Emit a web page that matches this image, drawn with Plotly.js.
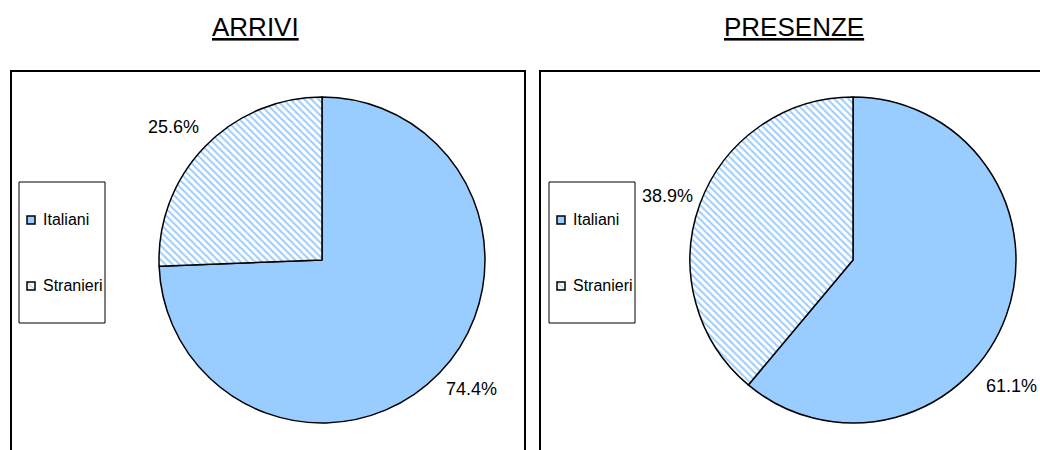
<!DOCTYPE html>
<html>
<head>
<meta charset="utf-8">
<script src="https://cdn.plot.ly/plotly-3.0.1.min.js"></script>
<style>html,body{margin:0;padding:0;background:#fff;}#chart{width:1040px;height:450px;}</style>
</head>
<body>
<div id="chart"></div>
<script>
// ---- data ----
const categories = ['Italiani', 'Stranieri'];
const arriviValues = [74.4, 25.6];
const presenzeValues = [61.1, 38.9];
const panelTitles = ['ARRIVI', 'PRESENZE'];

// ---- helpers (pixel -> paper) ----
const W = 1040, H = 450;
const px = x => x / W;
const py = y => 1 - y / H;

const FONT = 'Arial, "Liberation Sans", sans-serif';
const BLUE = '#99CCFF';

function pieTrace(values, xd) {
  return {
    type: 'pie',
    labels: categories,
    values: values,
    sort: false,
    direction: 'clockwise',
    rotation: 0,
    textinfo: 'none',
    hoverinfo: 'label+percent',
    showlegend: false,
    domain: {x: xd, y: [py(423), py(97)]},
    marker: {
      colors: [BLUE, 'white'],
      line: {color: 'black', width: 1.5},
      pattern: {
        shape: ['', '\\'],
        fgcolor: BLUE,
        bgcolor: 'white',
        size: 5,
        solidity: 0.4
      }
    }
  };
}

const data = [
  pieTrace(arriviValues, [px(322 - 163), px(322 + 163)]),
  pieTrace(presenzeValues, [px(853 - 163), px(853 + 163)])
];

const pct = v => v.toFixed(1) + '%';

const annotations = [];
// titles
[[255.5, panelTitles[0]], [793.5, panelTitles[1]]].forEach(([x, t]) => {
  annotations.push({
    xref: 'paper', yref: 'paper', x: px(x), y: py(27), xanchor: 'center', yanchor: 'middle',
    text: '<u>' + t + '</u>', showarrow: false, font: {family: FONT, size: 26, color: 'black'}
  });
});
// value labels
const labelPos = [
  [arriviValues[1], 173.5, 127],
  [arriviValues[0], 471, 388.5],
  [presenzeValues[1], 667, 196],
  [presenzeValues[0], 1011, 386]
];
labelPos.forEach(([v, x, y]) => {
  annotations.push({
    xref: 'paper', yref: 'paper', x: px(x), y: py(y), xanchor: 'center', yanchor: 'middle',
    text: pct(v), showarrow: false, font: {family: FONT, size: 18, color: 'black'}
  });
});

const shapes = [
  // panel boxes
  {type: 'rect', xref: 'paper', yref: 'paper', x0: px(11), x1: px(525), y0: py(71), y1: py(470),
   line: {color: 'black', width: 2}, fillcolor: 'rgba(0,0,0,0)', layer: 'below'},
  {type: 'rect', xref: 'paper', yref: 'paper', x0: px(540), x1: px(1060), y0: py(71), y1: py(470),
   line: {color: 'black', width: 2}, fillcolor: 'rgba(0,0,0,0)', layer: 'below'}
];

// manual legends
const legendColors = [BLUE, '#EEF6FF'];
[0, 530].forEach(off => {
  shapes.push({type: 'rect', xref: 'paper', yref: 'paper',
    x0: px(19 + off), x1: px(105 + off), y0: py(182), y1: py(323),
    line: {color: 'black', width: 1}, fillcolor: 'white'});
  categories.forEach((c, i) => {
    const cy = [220, 286][i];
    shapes.push({type: 'rect', xref: 'paper', yref: 'paper',
      x0: px(27 + off), x1: px(35 + off), y0: py(cy - 4), y1: py(cy + 4),
      line: {color: 'black', width: 1.5}, fillcolor: legendColors[i]});
    if (i === 1) {
      shapes.push({type: 'line', xref: 'paper', yref: 'paper',
        x0: px(28 + off), x1: px(34 + off), y0: py(cy - 3), y1: py(cy + 3),
        line: {color: BLUE, width: 1}});
    }
    annotations.push({xref: 'paper', yref: 'paper', x: px(41 + off), y: py(cy - 1),
      xanchor: 'left', yanchor: 'middle', text: c, showarrow: false,
      font: {family: FONT, size: 16, color: 'black'}});
  });
});

const layout = {
  width: W, height: H,
  margin: {l: 0, r: 0, t: 0, b: 0},
  paper_bgcolor: 'white',
  showlegend: false,
  annotations: annotations,
  shapes: shapes,
  font: {family: FONT}
};

Plotly.newPlot('chart', data, layout, {displayModeBar: false, staticPlot: true});
</script>
</body>
</html>
